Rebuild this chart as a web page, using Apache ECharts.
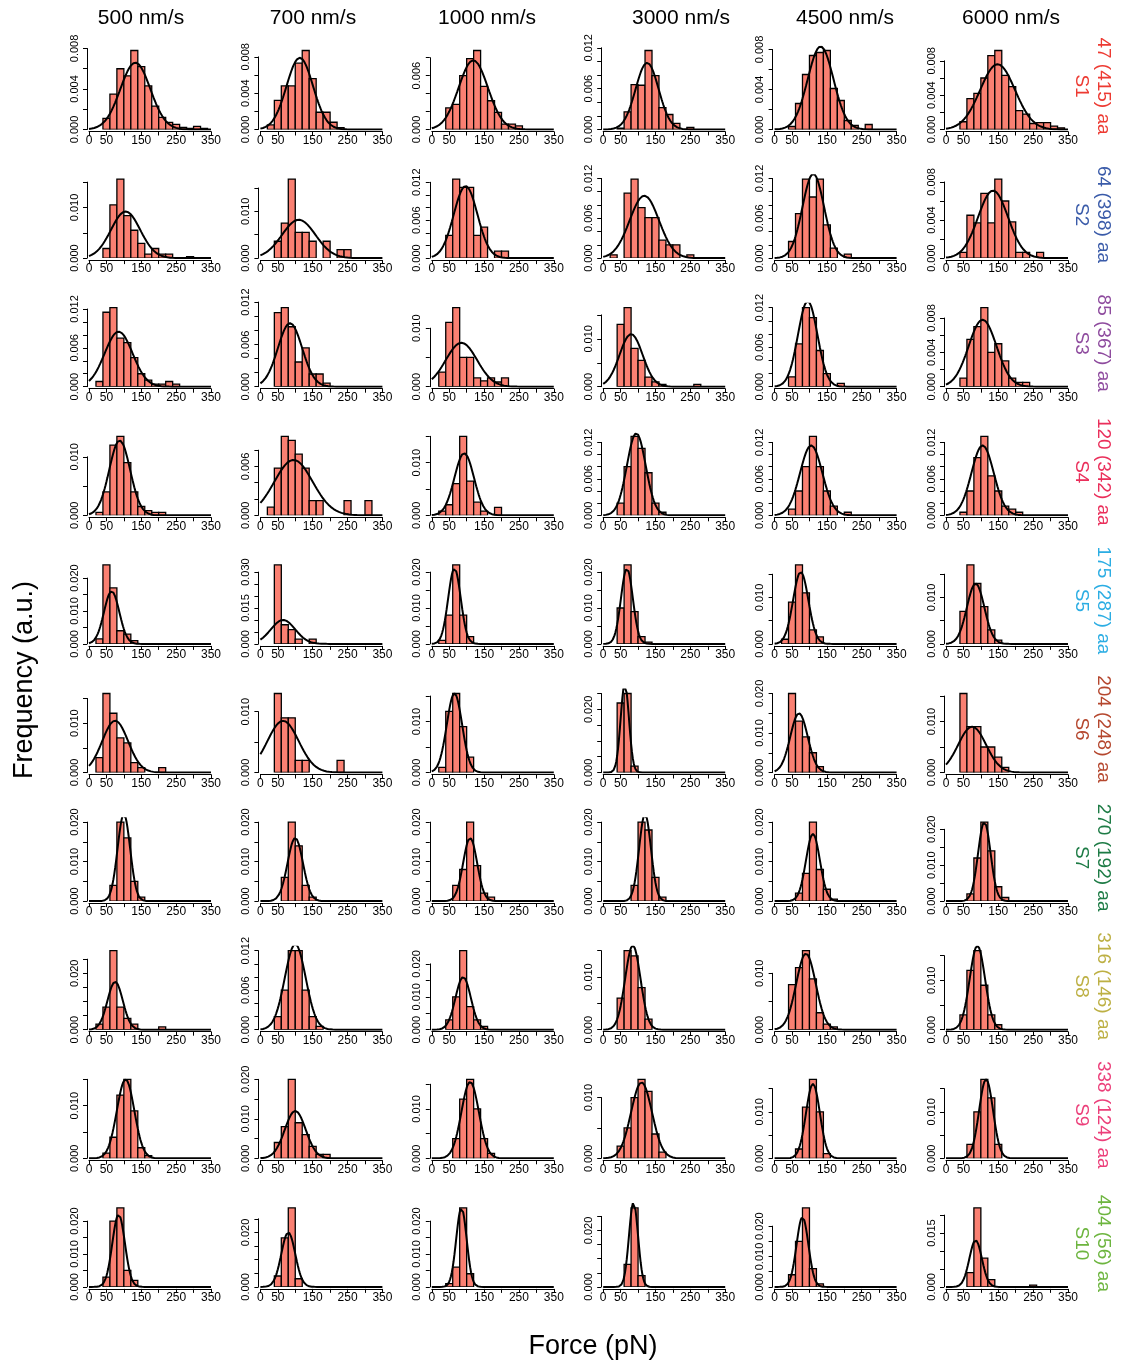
<!DOCTYPE html>
<html><head><meta charset="utf-8">
<script src="https://cdn.jsdelivr.net/npm/echarts@6/dist/echarts.min.js"></script>
<style>html,body{margin:0;padding:0;background:#fff}#c{width:1122px;height:1363px}</style>
</head><body><div id="c"></div>
<script>
// ---------- data ----------
const speeds = ['500 nm/s','700 nm/s','1000 nm/s','3000 nm/s','4500 nm/s','6000 nm/s'];
const segLabels = ['47 (415) aa','64 (398) aa','85 (367) aa','120 (342) aa','175 (287) aa','204 (248) aa','270 (192) aa','316 (146) aa','338 (124) aa','404 (56) aa'];
const segNames = ['S1','S2','S3','S4','S5','S6','S7','S8','S9','S10'];
const segColors = ['#ED3A32','#3A5BA9','#8E4B9E','#EA2F5B','#2BADE3','#B5472E','#1D7B45','#BDB044','#EC3F7A','#6DB53F'];
const binEdges = [0,20,40,60,80,100,120,140,160,180,200,220,240,260,280,300,320]; // lower edges (pN)
const BIN_W = 20;
const xTickShown = [0,50,150,250,350];
const UNIT = 1e-3; // frequencies below are in units of 0.001

// histogram heights per speed (500,700,1000,3000,4500,6000), bins of 20 pN from 0
const histS1 = [
 [0,0,1.1,3.5,6.0,5.3,7.8,6.2,4.3,2.3,1.2,0.7,0.5,0.2,0.1,0.3,0.1],
 [0,0.5,3.2,4.8,4.8,7.3,8.7,5.6,1.9,1.9,0.8,0.2,0,0,0,0,0],
 [0,0,2.4,2.8,6.0,7.9,8.8,4.8,3.2,1.9,0.6,0.6,0.4,0,0,0,0],
 [0,0,0.2,2.6,6.6,6.5,11.6,7.9,3.2,2.2,0.9,0,0.3,0,0,0,0],
 [0,0,0.3,2.6,5.5,7.4,7.7,7.9,4.1,2.9,0.9,0.4,0,0.5,0,0,0],
 [0,0,0.9,3.6,4.2,6.0,8.6,9.2,6.3,5.0,2.2,1.8,0.7,0.8,0.8,0.4,0.2]];
const histS2 = [
 [0,0,1.9,10.5,15.6,8.4,5.5,2.9,0.8,1.9,0.8,0.8,0,0,0.3,0,0],
 [0,0,3.6,7.5,16.9,5.5,5.5,3.6,0,3.6,0,1.8,1.8,0,0,0,0],
 [0,0,3.6,12.5,11.2,11.2,3.6,4.9,0,1.1,1.1,0,0,0,0,0,0],
 [0,0.5,0,9.8,11.9,7.6,6.1,6.1,2.7,2.0,2.0,0,0.5,0,0,0,0],
 [0,0,2.5,6.7,11.9,9.2,11.9,5.0,1.5,0,0.6,0,0,0,0,0,0],
 [0,0,0.6,4.5,3.7,6.8,3.7,8.3,6.0,3.8,0.6,0.6,0,0.6,0,0,0]];
const histS3 = [
 [0,0.8,11.5,12.2,7.5,6.8,4.5,2.0,1.0,0.4,0.4,0.8,0.4,0,0,0,0],
 [0,0,10.5,11.2,8.5,3.5,5.5,1.8,1.8,0.5,0,0,0,0,0,0,0],
 [0,2.5,11,13.5,5,5,1.5,1,1.5,0.8,1.5,0,0,0,0,0,0],
 [0,0,13,16.5,8,5.5,2,1,0.5,0,0,0,0,0.5,0,0,0],
 [0,0,1.5,6.5,12,10.5,5.5,2,0,0.5,0,0,0,0,0,0,0],
 [0,0,1,5.5,7,9.2,4,5,3,1,0.5,0.5,0,0,0,0,0]];
const histS4 = [
 [0,0.5,4,12,13.5,9,4,1.5,0.8,0.5,0.5,0,0,0,0,0,0],
 [0,1,5.8,9.7,9.2,7.5,5.8,1.8,1.8,0,0,0,1.8,0,0,1.8,0],
 [0,0.8,2,6,15,6.5,2.5,0.8,0,1.5,0,0,0,0,0,0,0],
 [0,0,2,8,13,11,7,2,0.5,0,0,0,0,0,0,0,0],
 [0,0,1,4,8,13,8,4,1.5,0,0.5,0,0,0,0,0,0],
 [0,0,0.5,4,9.5,13,6.5,4,1.5,1,0.5,0,0,0,0,0,0]];
const histS5 = [
 [0,1.5,24,17,4,3,1,0,0,0,0,0,0,0,0,0,0],
 [0,0,33,8,6,2,0,2,0,0,0,0,0,0,0,0,0],
 [0,1,8,22,8,2,0,0,0,0,0,0,0,0,0,0,0],
 [0,0,10,22,9,2,0.5,0,0,0,0,0,0,0,0,0,0],
 [0,1,9,17,11,3,1.5,0,0,0,0,0,0,0,0,0,0],
 [0,0,7,17,13,8,3,0.8,0,0,0,0,0,0,0,0,0]];
const histS6 = [
 [0,3,16,12,7,6,2,1,0,0,1,0,0,0,0,0,0],
 [0,0,13,9,9,2,2,0,0,0,0,2,0,0,0,0,0],
 [0,1,12,15.5,9,3,0,0,0,0,0,0,0,0,0,0,0],
 [0,0,22,25,2,0,0,0,0,0,0,0,0,0,0,0,0],
 [0,0,20,13,9,5,1.5,0,0,0,0,0,0,0,0,0,0],
 [0,0,15.5,9,9,5,5,3,1,0,0,0,0,0,0,0,0]];
const histS7 = [
 [0,0,0,4,20,16,5,1,0,0,0,0,0,0,0,0,0],
 [0,0,0,6,20,14,4,1,0,0,0,0,0,0,0,0,0],
 [0,0,0,4,8,20,9,2,1,0,0,0,0,0,0,0,0],
 [0,0,0,0,4,20,18,6,1,0,0,0,0,0,0,0,0],
 [0,0,0,2,7,20,8,3,0.5,0,0,0,0,0,0,0,0],
 [0,0,0,2,12,22,14,4,1,0,0,0,0,0,0,0,0]];
const histS8 = [
 [0,2,8,28,8,4,2,0,0,0,1,0,0,0,0,0,0],
 [0,0,2,6,12,12,6,2,0.5,0,0,0,0,0,0,0,0],
 [0,0,3,10,24,7,3,1,0,0,0,0,0,0,0,0,0],
 [0,0,6,15,14,8,2,0,0,0,0,0,0,0,0,0,0],
 [0,0,8,11,14,9,3,1,0.5,0,0,0,0,0,0,0,0],
 [0,0,3,12,16,9,3,1,0,0,0,0,0,0,0,0,0]];
const histS9 = [
 [0,0,1,4,12,15,9,2,0.5,0,0,0,0,0,0,0,0],
 [0,0,4,8,20,9,6,3,1,1,0,0,0,0,0,0,0],
 [0,0,0,4,12,16,10,4,1,0,0,0,0,0,0,0,0],
 [0,0,2,5,10,13,11,4,1,0,0,0,0,0,0,0,0],
 [0,0,0,2,11,17,10,1,0,0,0,0,0,0,0,0,0],
 [0,0,0,3,10,17,13,3,0,0,0,0,0,0,0,0,0]];
const histS10 = [
 [0,0,3,20,24,5,2,0,0,0,0,0,0,0,0,0,0],
 [0,0,4,18,29,3,0,0,0,0,0,0,0,0,0,0,0],
 [0,0,1,6,24,4,0,0,0,0,0,0,0,0,0,0,0],
 [0,0,0,8,28,4,0,0,0,0,0,0,0,0,0,0,0],
 [0,0,4,15,26,6,1,0,0,0,0,0,0,0,0,0,0],
 [0,0,0,4,22,8,2,0,0,0,0,0,0.5,0,0,0,0]];

// Gaussian fit per panel: [mean pN, sd pN, peak height (x0.001)]
const fitS1 = [[133,43,6.6],[113,38,7.9],[119,42,7.7],[126,33,9.8],[132,37,8.3],[148,50,7.6]];
const fitS2 = [[105,42,9.2],[110,48,8.2],[97,34,11.4],[118,42,9.4],[111,31,12.7],[135,43,7.1]];
const fitS3 = [[85,40,8.5],[85,35,9],[85,45,7.5],[80,33,11],[95,28,13],[105,40,7.8]];
const fitS4 = [[88,30,12.8],[95,55,6.8],[93,28,11.8],[95,27,13.5],[105,32,11.5],[105,32,11.5]];
const fitS5 = [[65,22,16],[65,35,10],[65,18,21],[68,17,21],[75,22,15.5],[85,25,13]];
const fitS6 = [[75,37,10.5],[65,45,8.5],[65,22,15.5],[62,12,28],[70,25,15],[75,40,9]];
const fitS7 = [[100,18,22],[100,22,16],[110,20,16],[120,17,22],[110,20,17],[110,18,22]];
const fitS8 = [[75,22,17],[100,30,13],[90,22,16],[85,22,16],[90,28,13.5],[90,22,17]];
const fitS9 = [[105,25,15],[100,30,12],[110,25,15.5],[110,30,12.5],[110,20,16],[115,20,17]];
const fitS10 = [[85,18,22],[80,20,20],[85,15,24],[87,13,30],[80,17,23],[85,18,13]];

// y axis per panel: [top tick, tick step, labelled every] (x0.001)
const ytS1 = [[8,2,4],[8,2,4],[8,2,6],[12,2,6],[8,2,4],[8,2,4]];
const ytS2 = [[15,5,10],[15,5,10],[12,2,6],[12,2,6],[12,2,6],[8,2,4]];
const ytS3 = [[12,2,6],[12,2,6],[10,5,10],[15,5,10],[12,2,6],[8,2,4]];
const ytS4 = [[10,5,10],[8,2,6],[15,5,10],[12,2,6],[12,2,6],[12,2,6]];
const ytS5 = [[20,5,10],[30,5,15],[20,5,10],[20,5,10],[15,5,10],[15,5,10]];
const ytS6 = [[15,5,10],[10,5,10],[15,5,10],[25,5,20],[20,5,10],[15,5,10]];
const ytS7 = [[20,5,10],[20,5,10],[20,5,10],[20,5,10],[20,5,10],[20,5,10]];
const ytS8 = [[25,5,20],[12,2,6],[20,5,10],[15,5,10],[10,5,10],[15,5,10]];
const ytS9 = [[15,5,10],[20,5,10],[15,5,10],[10,5,10],[15,5,10],[15,5,10]];
const ytS10 = [[20,5,10],[25,5,20],[20,5,10],[25,5,20],[20,5,10],[20,5,15]];

const HIST = [histS1,histS2,histS3,histS4,histS5,histS6,histS7,histS8,histS9,histS10];
const FITS = [fitS1,fitS2,fitS3,fitS4,fitS5,fitS6,fitS7,fitS8,fitS9,fitS10];
const YT = [ytS1,ytS2,ytS3,ytS4,ytS5,ytS6,ytS7,ytS8,ytS9,ytS10];

// ---------- layout ----------
const FONT = 'Liberation Sans, Arial, Helvetica, sans-serif';
const X0 = 89, DX = 171.4, W = 122;      // panel x of 0 pN and width to 350 pN
const YA0 = 132.5, DY = 128.6;           // x-axis line of first row, row pitch
const K = 79;                            // pixels from 0 to tallest bar
const titleX = [141,313,487,681,845,1011];

const grids = [], xAxes = [], yAxes = [], series = [];
const fmtY = lab => v => { const k = v/lab; return Math.abs(k-Math.round(k))<1e-6 ? v.toFixed(3) : ''; };

for (let r = 0; r < 10; r++) {
  for (let c = 0; c < 6; c++) {
    const bars = HIST[r][c].map(v => v*UNIT);
    const M = Math.max(...bars);
    const [top, step, lab] = YT[r][c].map(v => v*UNIT);
    const left = X0 + c*DX;
    const y0 = YA0 + r*DY - 3;
    const hA = K*top/M;
    const gA = grids.length;
    grids.push({left: left, top: y0-hA, width: W, height: hA});
    xAxes.push({gridIndex: gA, type:'value', min:0, max:350, interval:50, offset:2,
      axisLine:{show:true, onZero:false, lineStyle:{color:'#000', width:1}},
      axisTick:{show:true, length:4, lineStyle:{color:'#000', width:1}},
      axisLabel:{show:true, fontSize:12, color:'#000', margin:3, fontFamily:FONT,
        formatter: v => xTickShown.includes(v) ? String(v) : ''},
      splitLine:{show:false}});
    yAxes.push({gridIndex: gA, type:'value', min:0, max:top, interval:step, offset:2,
      axisLine:{show:true, onZero:false, lineStyle:{color:'#000', width:1}},
      axisTick:{show:true, length:4, lineStyle:{color:'#000', width:1}},
      axisLabel:{show:true, rotate:90, fontSize:11, color:'#000', margin:7, fontFamily:FONT,
        formatter: fmtY(lab)},
      splitLine:{show:false}});
    const hB = K*1.05;
    const gB = grids.length;
    grids.push({left: left, top: y0-hB, width: W, height: hB});
    xAxes.push({gridIndex: gB, type:'value', min:0, max:350, show:false});
    yAxes.push({gridIndex: gB, type:'value', min:0, max:1.05*M, show:false});
    const data = [];
    bars.forEach((v,i) => { if (v > 0) data.push([binEdges[i], binEdges[i]+BIN_W, v]); });
    series.push({type:'custom', xAxisIndex:gB, yAxisIndex:gB, clip:true, silent:true,
      encode:{x:[0,1], y:2}, data: data,
      renderItem: (params, api) => {
        const p0 = api.coord([api.value(0), api.value(2)]);
        const p1 = api.coord([api.value(1), 0]);
        return {type:'rect', shape:{x:p0[0], y:p0[1], width:p1[0]-p0[0], height:p1[1]-p0[1]},
          style:{fill:'#FA8072', stroke:'#000', lineWidth:1.3}};
      }});
    const [mu, sd, pk] = FITS[r][c];
    const curve = [];
    for (let x = 0; x <= 350; x += 2.5) curve.push([x, pk*UNIT*Math.exp(-(x-mu)*(x-mu)/(2*sd*sd))]);
    series.push({type:'line', xAxisIndex:gB, yAxisIndex:gB, clip:true, silent:true,
      showSymbol:false, symbol:'none', data: curve, lineStyle:{color:'#000', width:2}, z:5});
  }
}

const graphics = [];
speeds.forEach((s,i) => graphics.push({type:'text', x:titleX[i], y:18,
  style:{text:s, fontSize:21, fontFamily:FONT, fill:'#000', textAlign:'center', textVerticalAlign:'middle'}}));
for (let r = 0; r < 10; r++) {
  const cy = YA0 + r*DY - 46.5;
  graphics.push({type:'text', x:1103, y:cy, rotation:-Math.PI/2,
    style:{text:segLabels[r], fontSize:19, fontFamily:FONT, fill:segColors[r], textAlign:'center', textVerticalAlign:'middle'}});
  graphics.push({type:'text', x:1081, y:cy, rotation:-Math.PI/2,
    style:{text:segNames[r], fontSize:19, fontFamily:FONT, fill:segColors[r], textAlign:'center', textVerticalAlign:'middle'}});
}
graphics.push({type:'text', x:25, y:680, rotation:Math.PI/2,
  style:{text:'Frequency (a.u.)', fontSize:27, fontFamily:FONT, fill:'#000', textAlign:'center', textVerticalAlign:'middle'}});
graphics.push({type:'text', x:593, y:1347,
  style:{text:'Force (pN)', fontSize:27, fontFamily:FONT, fill:'#000', textAlign:'center', textVerticalAlign:'middle'}});

const chart = echarts.init(document.getElementById('c'), null, {renderer:'canvas'});
chart.setOption({animation:false, backgroundColor:'#fff', grid:grids, xAxis:xAxes, yAxis:yAxes, series:series, graphic:graphics});
</script></body></html>
